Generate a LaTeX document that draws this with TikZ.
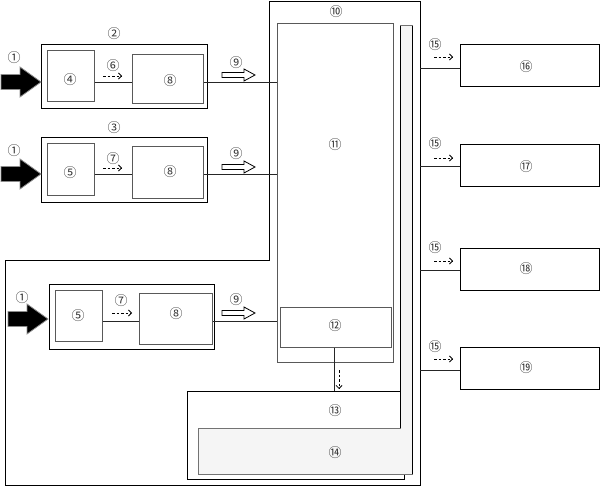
\documentclass[tikz,border=0pt]{standalone}
\usepackage{fontspec}
\newfontfamily\cjk{Noto Sans CJK SC}
\usetikzlibrary{fit,arrows.meta}
\begin{document}
\begin{tikzpicture}[x=1pt,y=-1pt,
  num/.style={font=\cjk\fontsize{13}{13}\selectfont, inner sep=0pt, text=black!80},
  obox/.style={draw=black, line width=1pt, fill=white, inner sep=0pt},
  ibox/.style={draw=black!65, line width=1pt, fill=white, inner sep=0pt},
  dasharrow/.style={line width=0.8pt, dash pattern=on 2.5pt off 2pt, -{Straight Barb[length=3pt,width=6pt]}},
  conn/.style={line width=0.8pt, draw=black!85},
  harrow/.pic={\draw[fill=white,line width=0.8pt] (0,-2.5) -- (22,-2.5) -- (22,-6) -- (33,0) -- (22,6) -- (22,2.5) -- (0,2.5) -- cycle;},
  bigarrow/.pic={\draw[fill=black,draw=black!45,line width=0.8pt] (0,0) -- (-21,-15) -- (-21,-7.5) -- (-40,-7.5) -- (-40,7.5) -- (-21,7.5) -- (-21,15) -- cycle;}
]
\useasboundingbox (0,0) rectangle (601,486);
\fill[white] (0,0) rectangle (601,486);

% frame 10
\draw[line width=1pt] (269,2) -- (420,2) -- (420,485) -- (5,485) -- (5,260) -- (269,260) -- cycle;
\coordinate (frR) at (420,0);
\node[num] (l10) at (336,12) {⑩};

% 13 and 14
\node[obox, fit={(187,391)(404,479)}] (b13) {};
\filldraw[fill=black!4, draw=black!55, line width=1pt] (198,428) -- (400,428) -- (400,26) -- (412,26) -- (412,474) -- (198,474) -- cycle;
\draw[line width=0.9pt] (400,26) -- (400,428);
\draw[line width=0.9pt] (412,26) -- (412,474);
\node[num] (l13) at (335,411) {⑬};
\node[num] (l14) at (335,453) {⑭};

% 11 and 12
\node[ibox, fit={(277,24)(393,362)}] (b11) {};
\node[num] (l11) at (335,145) {⑪};
\node[ibox, fit={(280,307)(391,347)}] (b12) {};
\node[num] (l12) at (335,326) {⑫};
\draw[conn] ([xshift=-1.5pt]b12.south) -- ([xshift=-1.5pt]b12.south |- b13.north);
\draw[dasharrow] (339,370) -- (339,389);

% module 2
\node[obox, fit={(41,45)(207,109)}] (m2) {};
\node[num] (l2) at (114,34) {②};
\node[ibox, fit={(47,51)(94,102)}] (b4) {};
\node[num] (l4) at (70,80) {④};
\node[ibox, fit={(132,55)(203,104)}] (b8a) {};
\node[num] (l8a) at (170,81) {⑧};
\coordinate (y2) at (0,82);
\draw[conn] (b4.east |- y2) -- (b8a.west |- y2);
\draw[conn] (b8a.east |- y2) -- (b11.west |- y2);
\draw[dasharrow] (103,76) -- (122,76);
\node[num] (l6) at (113,66) {⑥};
\pic at (222,75) {harrow};
\node[num] (l9a) at (236,63) {⑨};
\pic at (41,82) {bigarrow};
\node[num] (l1a) at (14,58) {①};

% module 3
\node[obox, fit={(41,138)(207,202)}] (m3) {};
\node[num] (l3) at (114,128) {③};
\node[ibox, fit={(47,144)(94,195)}] (b5a) {};
\node[num] (l5a) at (70,173) {⑤};
\node[ibox, fit={(132,147)(203,198)}] (b8b) {};
\node[num] (l8b) at (170,172) {⑧};
\coordinate (y3) at (0,174);
\draw[conn] (b5a.east |- y3) -- (b8b.west |- y3);
\draw[conn] (b8b.east |- y3) -- (b11.west |- y3);
\draw[dasharrow] (103,168) -- (122,168);
\node[num] (l7a) at (113,159) {⑦};
\pic at (222,167) {harrow};
\node[num] (l9b) at (236,154) {⑨};
\pic at (41,174) {bigarrow};
\node[num] (l1b) at (14,151) {①};

% module 4
\node[obox, fit={(49,284)(214,349)}] (m4) {};
\node[ibox, fit={(55,290)(102,341)}] (b5b) {};
\node[num] (l5b) at (78,316) {⑤};
\node[ibox, fit={(139,293)(212,344)}] (b8c) {};
\node[num] (l8c) at (176,314) {⑧};
\coordinate (y4) at (0,321);
\draw[conn] (b5b.east |- y4) -- (b8c.west |- y4);
\draw[conn] (b8c.east |- y4) -- (b11.west |- y4);
\draw[dasharrow] (112,313) -- (132,313);
\node[num] (l7b) at (121,301) {⑦};
\pic at (222,313) {harrow};
\node[num] (l9c) at (236,300) {⑨};
\pic at (48,319) {bigarrow};
\node[num] (l1c) at (22,298) {①};

% right boxes
\node[obox, fit={(460,45)(599,87)}] (b16) {};
\node[num] (l16) at (526,67) {⑯};
\node[obox, fit={(460,145)(599,187)}] (b17) {};
\node[num] (l17) at (526,167) {⑰};
\node[obox, fit={(460,248)(599,290)}] (b18) {};
\node[num] (l18) at (526,269) {⑱};
\node[obox, fit={(460,347)(599,389)}] (b19) {};
\node[num] (l19) at (526,368) {⑲};
\draw[conn] ([yshift=-2pt]b16.west -| frR) -- ([yshift=-2pt]b16.west);
\draw[conn] (b17.west -| frR) -- (b17.west);
\draw[conn] ([yshift=-1pt]b18.west -| frR) -- ([yshift=-1pt]b18.west);
\draw[conn] ([yshift=-2pt]b19.west -| frR) -- ([yshift=-2pt]b19.west);
\foreach \y in {57,158,261,359}{
  \draw[dasharrow] (434,\y) -- (453,\y);
}
\node[num] (l15a) at (435,45) {⑮};
\node[num] (l15b) at (435,144) {⑮};
\node[num] (l15c) at (435,248) {⑮};
\node[num] (l15d) at (435,347) {⑮};
\end{tikzpicture}
\end{document}
